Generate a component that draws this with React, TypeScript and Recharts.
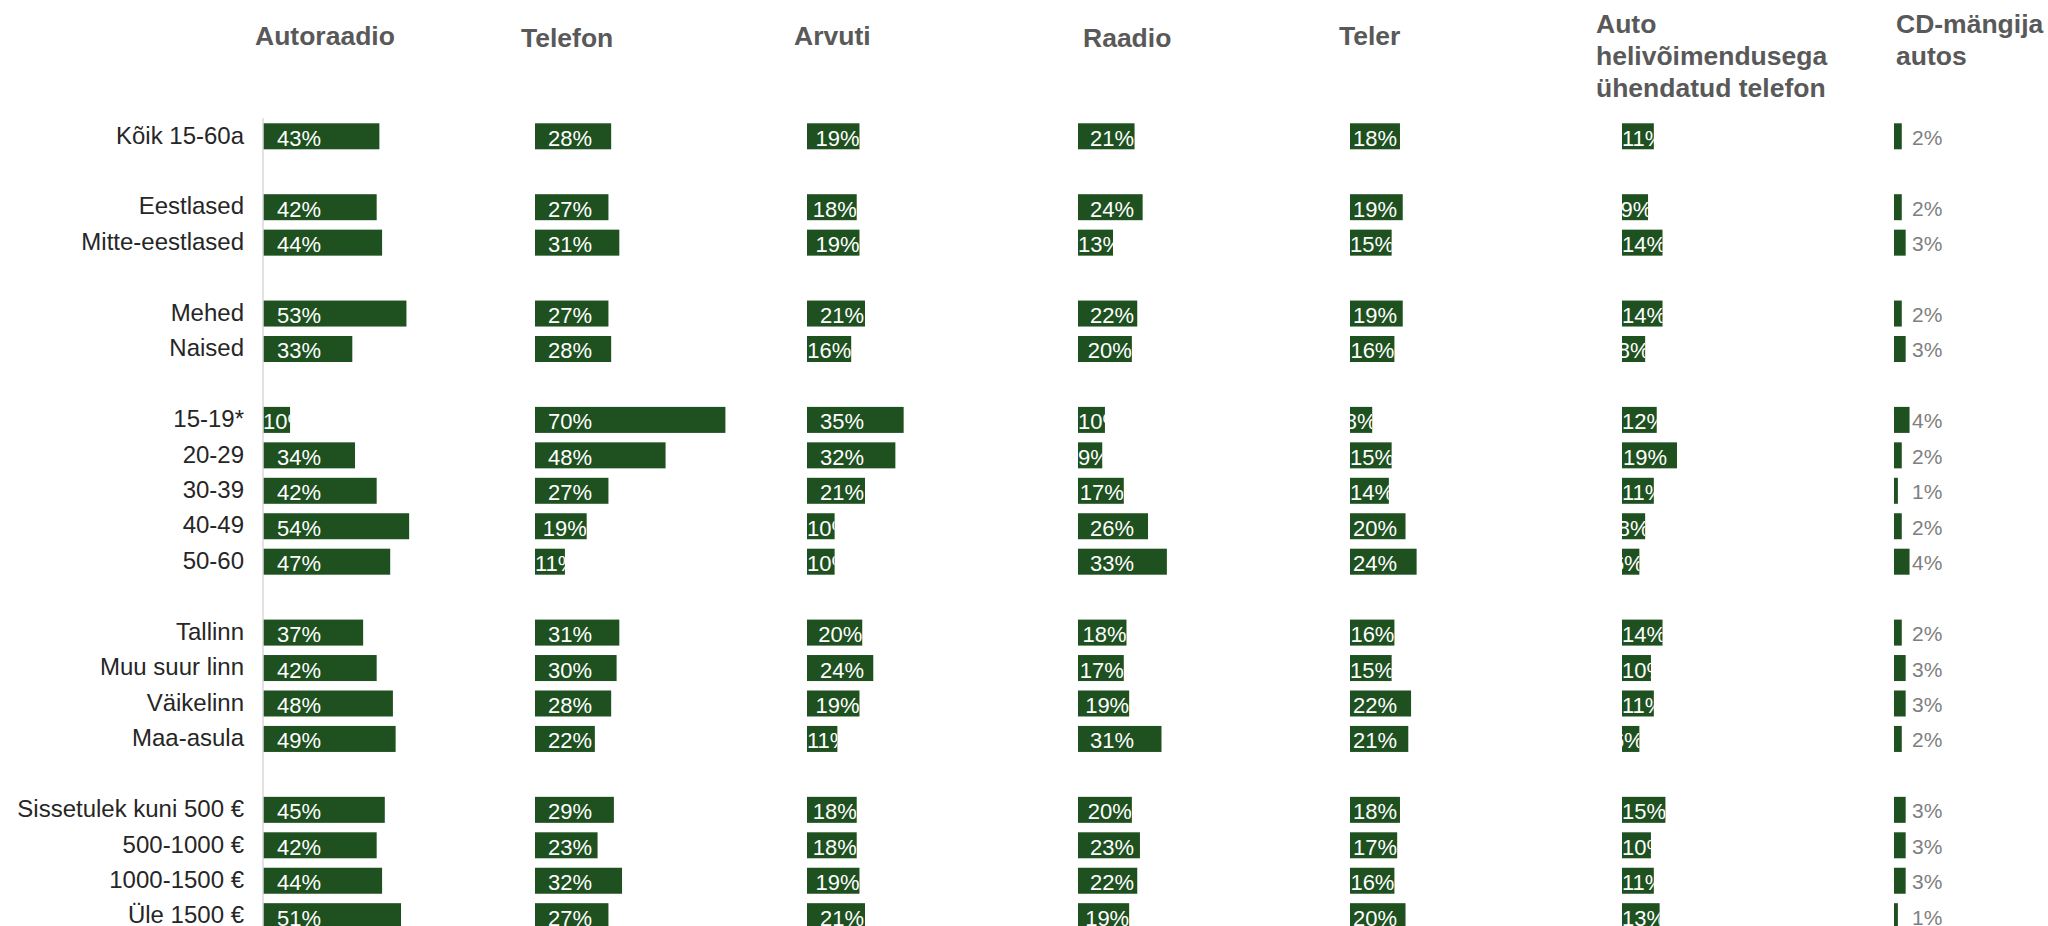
import React from 'react';
import { BarChart, Bar, XAxis, YAxis } from 'recharts';

// ---------- DATA ----------
const categories = [
  'Kõik 15-60a', '',
  'Eestlased', 'Mitte-eestlased', '',
  'Mehed', 'Naised', '',
  '15-19*', '20-29', '30-39', '40-49', '50-60', '',
  'Tallinn', 'Muu suur linn', 'Väikelinn', 'Maa-asula', '',
  'Sissetulek kuni 500 €', '500-1000 €', '1000-1500 €', 'Üle 1500 €',
];

const autoraadio = [43, null, 42, 44, null, 53, 33, null, 10, 34, 42, 54, 47, null, 37, 42, 48, 49, null, 45, 42, 44, 51];
const telefon = [28, null, 27, 31, null, 27, 28, null, 70, 48, 27, 19, 11, null, 31, 30, 28, 22, null, 29, 23, 32, 27];
const arvuti = [19, null, 18, 19, null, 21, 16, null, 35, 32, 21, 10, 10, null, 20, 24, 19, 11, null, 18, 18, 19, 21];
const raadio = [21, null, 24, 13, null, 22, 20, null, 10, 9, 17, 26, 33, null, 18, 17, 19, 31, null, 20, 23, 22, 19];
const teler = [18, null, 19, 15, null, 19, 16, null, 8, 15, 14, 20, 24, null, 16, 15, 22, 21, null, 18, 17, 16, 20];
const autoHelivoimendus = [11, null, 9, 14, null, 14, 8, null, 12, 19, 11, 8, 6, null, 14, 10, 11, 6, null, 15, 10, 11, 13];
const cdMangija = [2, null, 2, 3, null, 2, 3, null, 4, 2, 1, 2, 4, null, 2, 3, 3, 2, null, 3, 3, 3, 1];

const columnTitles = [
  ['Autoraadio'],
  ['Telefon'],
  ['Arvuti'],
  ['Raadio'],
  ['Teler'],
  ['Auto', 'helivõimendusega', 'ühendatud telefon'],
  ['CD-mängija', 'autos'],
];

const seriesValues = [autoraadio, telefon, arvuti, raadio, teler, autoHelivoimendus, cdMangija];

// ---------- STYLE ----------
const FONT = '"Liberation Sans", Arial, Helvetica, sans-serif';
const BAR_COLOR = '#1e5020';
const ROW_H = 35.45;
const PLOT_TOP = 118.3;
const PLOT_BOTTOM_PAD = 8;
const CHART_H = PLOT_TOP + ROW_H * categories.length + PLOT_BOTTOM_PAD;
const AXIS_W = 263;
const COL_W = 272;
const BAR_SIZE = 26;
const colLeft = [263, 535, 807, 1078, 1350, 1622, 1894];
const colMax = [100.5, 100, 98.5, 101, 98, 94, 70];
const labelInset = [14, 13, 13, 12, 3, 1, 18];
const rightAlignSmall = [false, false, false, false, true, true, false];
const titleLeft = [255, 521, 794, 1083, 1339, 1596, 1896];
const titleTop = [20, 22, 20, 22, 20, 8, 8];
const LABEL_SIZE = 22;

const rows = categories.map((name, i) => {
  const row: Record<string, any> = { key: 'r' + i, name };
  seriesValues.forEach((s, c) => {
    row['v' + c] = s[i];
  });
  return row;
});
const nameByKey: Record<string, string> = {};
rows.forEach((r) => {
  nameByKey[r.key] = r.name;
});

const CategoryTick = (props: any) => {
  const { x, y, payload } = props;
  const label = nameByKey[payload.value] || '';
  return (
    <text x={x} y={y + 7.5} textAnchor="end" fontSize={24} fill="#262626" fontFamily={FONT}>
      {label}
    </text>
  );
};

function makeShape(col: number) {
  return (props: any) => {
    const { x, y, width, height, payload, index } = props;
    const v = payload ? payload['v' + col] : null;
    if (v == null || !(width > 0)) return <g />;
    const cy = y + height / 2;
    const label = `${v}%`;
    if (col === 6) {
      return (
        <g>
          <rect x={x} y={y} width={width} height={height} fill={BAR_COLOR} />
          <text x={x + labelInset[col]} y={cy + 8.5} fontSize={21} fill="#7f7f7f" fontFamily={FONT}>
            {label}
          </text>
        </g>
      );
    }
    const wide = LABEL_SIZE * 2;
    const narrow = LABEL_SIZE * 1.25;
    let start: number;
    if (rightAlignSmall[col] && v < 10) {
      start = Math.min(labelInset[col], width - narrow);
    } else {
      start = Math.max(0, Math.min(labelInset[col], width - wide));
    }
    const id = `clip-${col}-${index}`;
    return (
      <g>
        <defs>
          <clipPath id={id}>
            <rect x={x} y={y} width={width} height={height} />
          </clipPath>
        </defs>
        <rect x={x} y={y} width={width} height={height} fill={BAR_COLOR} />
        <text
          x={x + start}
          y={cy + 9.5}
          fontSize={LABEL_SIZE}
          fill="#ffffff"
          fontFamily={FONT}
          clipPath={`url(#${id})`}
        >
          {label}
        </text>
      </g>
    );
  };
}

function ColumnChart({ col }: { col: number }) {
  const first = col === 0;
  const width = first ? AXIS_W + COL_W : COL_W;
  const left = first ? 0 : colLeft[col];
  return (
    <div style={{ position: 'absolute', left, top: 0 }}>
      <BarChart
        width={width}
        height={CHART_H}
        data={rows}
        layout="vertical"
        margin={{ top: PLOT_TOP, right: 0, bottom: PLOT_BOTTOM_PAD, left: 0 }}
        barSize={BAR_SIZE}
      >
        <XAxis type="number" domain={[0, colMax[col]]} hide allowDataOverflow />
        {first ? (
          <YAxis
            type="category"
            dataKey="key"
            width={AXIS_W}
            interval={0}
            tickSize={0}
            tickMargin={19}
            tickLine={false}
            axisLine={{ stroke: '#d9d9d9', strokeWidth: 1.5 }}
            tick={<CategoryTick />}
          />
        ) : (
          <YAxis type="category" dataKey="key" hide />
        )}
        <Bar dataKey={'v' + col} fill={BAR_COLOR} isAnimationActive={false} shape={makeShape(col)} />
      </BarChart>
    </div>
  );
}

export default function App() {
  return (
    <div
      style={{
        position: 'absolute',
        left: 0,
        top: 0,
        width: 2048,
        height: 926,
        overflow: 'hidden',
        background: '#ffffff',
        fontFamily: FONT,
      }}
    >
      {columnTitles.map((lines, c) => (
        <div
          key={'t' + c}
          style={{
            position: 'absolute',
            left: titleLeft[c],
            top: titleTop[c],
            fontSize: 26.5,
            lineHeight: '32px',
            fontWeight: 700,
            color: '#595959',
            whiteSpace: 'nowrap',
            fontFamily: FONT,
          }}
        >
          {lines.map((l, i) => (
            <div key={i}>{l}</div>
          ))}
        </div>
      ))}
      {seriesValues.map((_, c) => (
        <ColumnChart key={'c' + c} col={c} />
      ))}
    </div>
  );
}
